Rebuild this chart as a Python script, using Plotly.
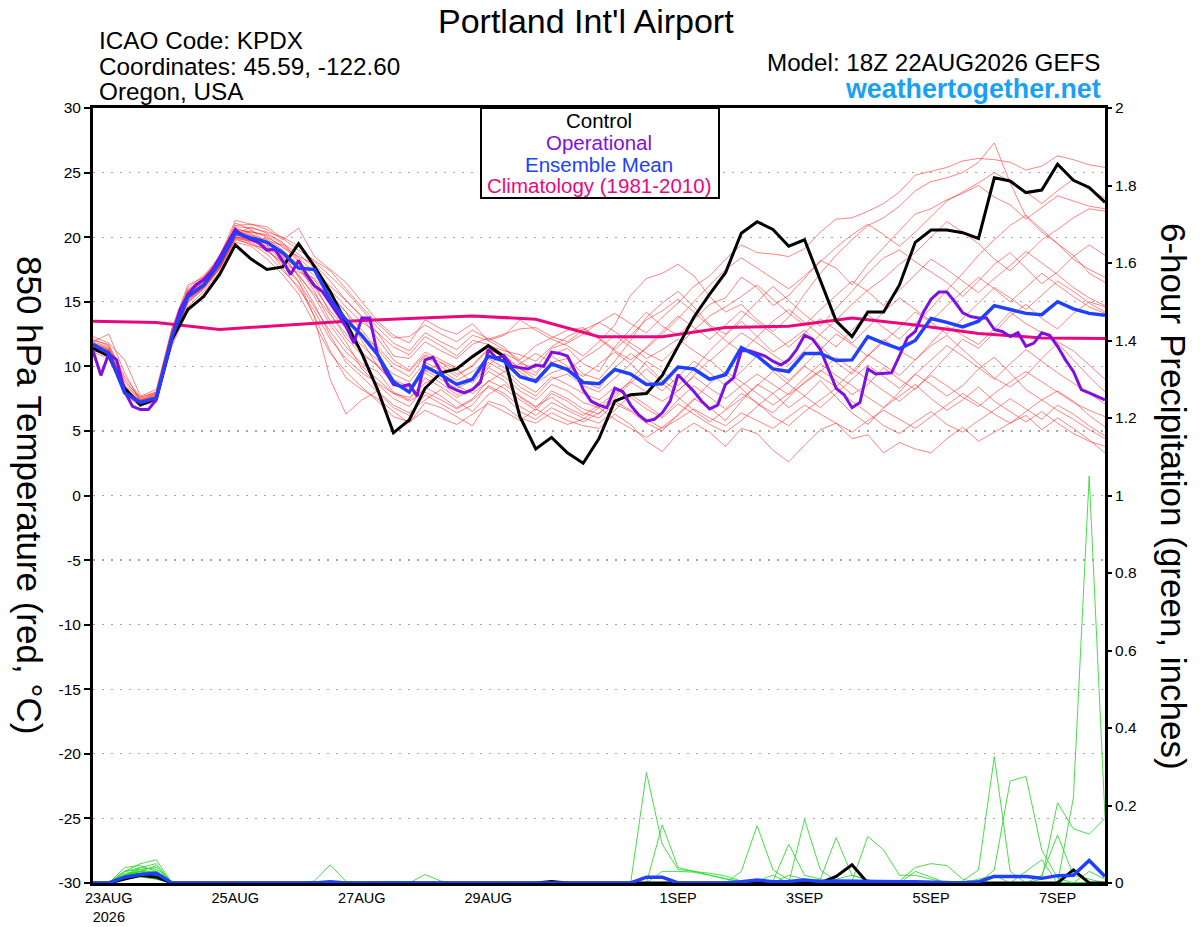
import plotly.graph_objects as go
import pandas as pd

# ---------------- time axes ----------------
start = pd.Timestamp("2026-08-22 18:00")
times_6h = pd.date_range(start, periods=65, freq="6h")
times_3h = pd.date_range(start, periods=129, freq="3h")
clim_times = pd.date_range(start, periods=17, freq="24h")

x_tick_dates = ["2026-08-23", "2026-08-25", "2026-08-27", "2026-08-29",
                "2026-09-01", "2026-09-03", "2026-09-05", "2026-09-07"]
x_tick_labels = ["23AUG<br>2026", "25AUG", "27AUG", "29AUG",
                 "1SEP", "3SEP", "5SEP", "7SEP"]
temp_ticks = [-30, -25, -20, -15, -10, -5, 0, 5, 10, 15, 20, 25, 30]
temp_tick_labels = ["-30", "-25", "-20", "-15", "-10", "-5", "0", "5", "10", "15", "20", "25", "30"]
precip_ticks = [0, 0.2, 0.4, 0.6, 0.8, 1, 1.2, 1.4, 1.6, 1.8, 2]
precip_tick_labels = ["0", "0.2", "0.4", "0.6", "0.8", "1", "1.2", "1.4", "1.6", "1.8", "2"]

# ---------------- 850 hPa temperature (deg C) ----------------
control_temp = [11.4, 10.8, 8.3, 7.0, 7.5, 12.1, 14.4, 15.4, 17.1, 19.4,
                18.3, 17.5, 17.7, 19.5, 17.75, 15.8, 13.4, 11.0, 8.2, 4.85,
                5.85, 8.3, 9.5, 9.8, 10.75, 11.6, 10.75, 6.1, 3.6, 4.5,
                3.3, 2.5, 4.4, 7.3, 7.8, 7.9, 9.3, 11.6, 13.8, 15.6,
                17.25, 20.3, 21.2, 20.6, 19.3, 19.8, 16.7, 13.5, 12.3, 14.2,
                14.2, 16.3, 19.6, 20.55, 20.55, 20.35, 19.9, 24.6, 24.35, 23.45,
                23.65, 25.65, 24.4, 23.85, 22.7]

mean_temp = [11.7, 11.0, 7.95, 7.2, 7.55, 12.3, 15.4, 16.3, 18.0, 20.3,
             19.95, 19.6, 18.8, 17.6, 17.5, 15.2, 13.6, 12.4, 10.9, 8.8,
             8.0, 10.0, 9.35, 8.6, 9.0, 10.8, 10.4, 9.2, 8.85, 10.2,
             9.75, 8.75, 8.65, 9.75, 9.4, 8.6, 8.65, 9.95, 9.8, 9.0,
             9.35, 11.45, 10.8, 9.8, 9.6, 11.0, 11.0, 10.45, 10.5, 12.3,
             11.8, 11.35, 12.0, 13.7, 13.4, 13.05, 13.5, 14.7, 14.4, 14.1,
             14.0, 15.0, 14.45, 14.1, 13.95]

# operational run, 3-hourly
oper_temp = [11.2, 9.3, 11.0, 10.5, 8.05, 6.9, 6.65, 6.65,
             7.4, 9.75, 12.3, 14.4, 15.55, 16.3, 16.7, 17.35,
             18.4, 19.55, 20.6, 20.1, 19.85, 19.55, 19.0, 19.05,
             18.15, 17.1, 18.2, 17.1, 16.25, 15.8, 14.9, 14.0,
             13.1, 11.8, 13.75, 13.75, 10.9, 9.6, 8.6, 8.45,
             8.6, 7.7, 10.5, 10.7, 9.6, 8.45, 8.15, 7.95,
             8.2, 8.75, 11.3, 10.65, 10.8, 10.0, 9.9, 9.8,
             10.1, 10.0, 11.1, 11.0, 10.8, 9.6, 8.2, 7.3,
             7.0, 6.8, 8.3, 8.05, 7.0, 6.25, 5.75, 5.9,
             6.4, 7.3, 9.35, 8.7, 8.05, 7.3, 6.7, 7.0,
             8.6, 9.1, 11.2, 11.2, 11.0, 10.8, 10.4, 10.1,
             10.5, 11.3, 12.4, 12.1, 11.3, 9.75, 8.3, 7.8,
             6.8, 7.2, 9.8, 9.4, 9.45, 9.5, 10.8, 12.2,
             12.7, 14.15, 15.2, 15.75, 15.75, 15.0, 14.15, 13.85,
             13.75, 13.75, 12.85, 12.7, 12.3, 12.6, 11.55, 11.8,
             12.6, 12.4, 11.55, 10.5, 9.6, 8.2, 7.95, 7.7,
             7.4]

clim_temp = [13.5, 13.4, 12.85, 13.2, 13.5, 13.7, 13.9, 13.65, 12.3,
             12.3, 13.0, 13.1, 13.75, 13.2, 12.55, 12.2, 12.15]

member_temp_01 = [11.9, 12.5, 9.5, 7.3, 7.8, 12.8, 15.8, 16.8, 18.2, 20.9, 21.0, 20.6, 19.8,
                  20.7, 18.5, 17.5, 16.5, 15.0, 13.5, 12.4, 11.8, 13.6, 12.9, 12.5, 13.3, 12.0,
                  12.4, 13.6, 12.8, 12.1, 11.6, 10.8, 11.9, 13.2, 15.5, 16.8, 17.2, 17.9, 17.0,
                  15.4, 14.2, 14.8, 13.6, 12.7, 13.8, 15.6, 17.2, 18.6, 19.8, 20.9, 21.5, 22.4,
                  23.6, 24.3, 24.6, 25.0, 25.8, 27.3, 24.2, 21.6, 20.4, 19.5, 18.6, 17.2, 16.5]
member_temp_02 = [11.5, 11.2, 8.2, 7.4, 7.9, 12.6, 15.6, 16.5, 18.4, 20.6, 20.4, 20.1, 19.2,
                  18.5, 17.9, 16.6, 15.1, 13.9, 12.6, 10.8, 10.6, 11.9, 11.2, 10.6, 11.7, 12.2,
                  11.5, 10.2, 9.9, 11.4, 11.8, 12.5, 13.4, 14.1, 13.3, 12.6, 13.8, 14.9, 16.2,
                  17.0, 18.3, 19.4, 18.8, 18.7, 18.5, 19.1, 20.4, 21.4, 21.5, 22.0, 22.6, 23.5,
                  24.8, 25.1, 25.4, 25.9, 26.1, 26.0, 25.8, 25.2, 25.5, 26.3, 26.0, 25.6, 25.4]
member_temp_03 = [11.6, 11.1, 8.0, 7.1, 7.4, 12.1, 15.2, 16.1, 17.6, 20.2, 20.8, 20.3, 19.6,
                  18.2, 16.4, 14.1, 12.2, 10.9, 10.1, 9.0, 8.4, 9.6, 10.3, 9.8, 8.7, 10.1,
                  11.0, 10.4, 9.5, 10.9, 11.4, 10.2, 9.6, 11.5, 12.9, 14.2, 13.1, 12.4, 13.6,
                  14.8, 15.3, 16.9, 16.1, 14.7, 15.5, 16.8, 18.2, 17.6, 16.3, 17.9, 19.2, 20.5,
                  21.8, 22.2, 22.9, 23.4, 24.0, 23.1, 22.5, 21.4, 22.3, 23.2, 22.8, 22.4, 22.2]
member_temp_04 = [11.3, 10.7, 7.9, 7.0, 7.3, 11.8, 14.6, 15.8, 17.3, 19.8, 19.5, 18.7, 17.4,
                  16.2, 13.9, 11.2, 9.1, 8.2, 7.5, 6.5, 5.6, 7.2, 6.8, 6.1, 5.4, 7.3,
                  6.9, 6.0, 5.6, 6.4, 5.8, 5.4, 5.2, 6.3, 5.5, 4.2, 3.4, 4.8, 5.6,
                  4.9, 3.8, 5.2, 4.8, 3.5, 2.6, 3.9, 5.1, 5.6, 4.4, 4.7, 3.3, 4.1,
                  3.6, 3.3, 4.4, 5.3, 4.2, 4.9, 5.6, 6.2, 5.1, 6.0, 5.2, 4.3, 3.3]
member_temp_05 = [11.8, 11.4, 8.6, 7.5, 7.9, 12.4, 15.5, 16.7, 18.1, 20.4, 20.2, 19.8, 18.4,
                  17.1, 15.4, 13.2, 11.5, 10.2, 9.6, 8.0, 7.4, 9.1, 8.4, 7.6, 8.2, 9.9,
                  9.2, 8.1, 7.4, 8.6, 8.1, 7.2, 6.8, 7.7, 8.9, 10.4, 9.6, 8.5, 9.8,
                  11.2, 12.4, 13.5, 12.3, 11.1, 11.9, 12.8, 11.6, 10.3, 9.4, 10.8, 12.1, 11.2,
                  10.5, 11.6, 12.4, 11.3, 10.2, 9.1, 8.4, 9.3, 10.6, 11.8, 10.5, 9.2, 8.0]
member_temp_06 = [12.1, 11.6, 9.0, 7.4, 7.6, 12.5, 15.9, 16.9, 18.3, 21.1, 20.6, 19.4, 18.0,
                  17.3, 16.8, 15.5, 14.2, 12.8, 11.3, 9.9, 9.2, 10.8, 10.0, 9.2, 10.1, 11.4,
                  10.7, 9.6, 8.7, 9.5, 9.9, 8.8, 8.3, 9.9, 11.0, 10.1, 8.9, 8.1, 9.3,
                  10.5, 9.4, 8.3, 7.1, 6.4, 7.6, 8.8, 9.7, 8.9, 7.8, 8.6, 9.9, 9.0,
                  8.2, 9.5, 10.8, 12.1, 11.4, 12.6, 13.9, 14.8, 13.7, 12.9, 14.1, 15.0, 14.6]
member_temp_07 = [11.4, 11.0, 7.8, 6.9, 7.7, 12.2, 15.3, 16.2, 17.8, 20.1, 19.7, 19.9, 19.0,
                  17.8, 15.8, 13.5, 11.9, 9.8, 8.6, 7.5, 6.9, 8.4, 7.7, 6.8, 7.5, 8.9,
                  8.3, 7.4, 6.6, 7.9, 7.3, 6.4, 6.0, 7.1, 6.5, 5.6, 5.0, 6.3, 7.5,
                  6.8, 5.8, 7.3, 8.6, 7.9, 6.8, 7.7, 8.9, 7.6, 6.4, 5.5, 6.8, 8.0,
                  9.4, 8.6, 7.7, 8.5, 9.8, 10.7, 9.5, 8.2, 7.4, 8.1, 7.3, 6.2, 5.3]
member_temp_08 = [11.7, 11.3, 8.4, 7.2, 7.5, 12.3, 15.4, 16.4, 18.0, 20.3, 20.5, 20.0, 19.3,
                  18.1, 17.0, 15.9, 14.6, 13.4, 12.6, 11.5, 10.9, 12.3, 11.6, 10.8, 12.0, 11.7,
                  10.9, 9.8, 9.0, 10.3, 10.6, 9.4, 9.0, 10.4, 12.0, 13.8, 14.9, 15.8, 14.6,
                  13.2, 12.5, 13.7, 15.0, 16.2, 15.1, 14.0, 13.1, 14.5, 15.8, 17.2, 18.4, 19.0,
                  18.1, 17.3, 16.5, 15.4, 16.6, 17.9, 18.8, 17.6, 16.4, 17.3, 18.5, 19.4, 18.6]
member_temp_09 = [11.2, 10.9, 8.1, 7.3, 7.4, 11.9, 15.0, 16.0, 17.5, 19.9, 19.4, 19.1, 18.8,
                  16.9, 14.8, 12.4, 10.3, 9.2, 8.0, 6.8, 6.2, 7.8, 7.1, 6.4, 7.0, 8.5,
                  7.9, 6.9, 6.2, 7.2, 6.6, 6.0, 5.6, 6.6, 7.8, 7.0, 6.1, 7.4, 8.5,
                  7.6, 6.7, 7.9, 7.2, 6.1, 5.4, 6.5, 7.4, 8.3, 7.3, 6.4, 5.4, 4.8,
                  5.7, 6.5, 5.5, 4.9, 5.8, 6.6, 7.5, 6.7, 5.9, 7.0, 6.3, 5.4, 4.6]
member_temp_10 = [11.9, 11.5, 8.8, 7.6, 8.0, 12.9, 16.1, 17.0, 18.5, 21.3, 21.0, 20.8, 19.9,
                  19.0, 18.2, 17.4, 16.0, 14.6, 13.3, 12.2, 12.3, 13.2, 12.5, 11.9, 12.8, 12.1,
                  12.5, 12.9, 13.0, 12.3, 11.9, 12.8, 13.4, 12.7, 11.8, 11.0, 10.4, 11.6, 12.8,
                  13.9, 14.6, 15.4, 16.3, 15.2, 14.1, 13.2, 14.4, 15.5, 16.6, 15.8, 14.7, 15.9,
                  17.1, 18.3, 17.5, 16.6, 15.7, 16.8, 17.8, 18.9, 18.0, 17.1, 16.1, 15.3, 14.7]
member_temp_11 = [11.5, 11.1, 8.3, 7.2, 7.6, 12.0, 15.1, 16.2, 17.7, 20.0, 19.9, 19.5, 18.6,
                  17.5, 16.1, 14.3, 12.9, 11.6, 10.5, 9.4, 8.8, 10.3, 9.7, 8.9, 9.6, 10.6,
                  9.9, 8.7, 8.0, 9.2, 8.6, 7.9, 7.4, 8.4, 7.6, 6.7, 6.0, 7.1, 6.3,
                  5.5, 4.9, 5.8, 6.9, 7.9, 8.8, 10.0, 9.2, 8.4, 9.6, 10.9, 10.1, 9.3,
                  10.5, 11.8, 13.1, 12.4, 11.7, 12.9, 14.2, 13.3, 12.6, 11.9, 11.2, 10.1, 9.0]
member_temp_12 = [12.3, 11.8, 10.5, 7.7, 8.2, 13.0, 16.3, 16.9, 18.3, 20.7, 20.3, 19.2, 17.6,
                  16.0, 14.3, 12.1, 10.6, 9.5, 8.7, 7.9, 7.6, 8.7, 9.3, 8.5, 7.9, 8.8,
                  9.6, 10.2, 11.0, 10.3, 9.7, 10.6, 11.4, 12.4, 11.5, 10.6, 11.3, 12.1, 11.2,
                  10.4, 11.5, 12.6, 11.8, 10.9, 10.1, 11.2, 12.5, 13.6, 14.8, 15.9, 16.8, 17.9,
                  18.8, 20.0, 21.2, 20.4, 19.5, 18.3, 17.4, 18.6, 19.8, 20.6, 21.5, 22.2, 22.0]
member_temp_13 = [11.1, 10.6, 7.9, 7.0, 7.2, 11.6, 14.3, 15.6, 17.2, 19.6, 19.3, 18.3, 17.1,
                  15.6, 13.3, 11.0, 9.6, 8.4, 7.3, 6.1, 5.7, 6.6, 6.0, 5.5, 6.3, 7.1,
                  6.5, 5.8, 6.7, 6.0, 5.5, 5.9, 6.8, 5.9, 5.2, 4.5, 5.3, 6.2, 7.4,
                  8.7, 9.6, 8.8, 7.9, 7.0, 7.9, 9.1, 10.2, 9.3, 8.5, 7.6, 6.8, 7.7,
                  8.6, 7.5, 6.6, 7.4, 8.4, 7.3, 6.5, 5.7, 6.5, 5.6, 4.8, 4.2, 3.8]
member_temp_14 = [11.6, 11.2, 8.2, 7.3, 7.7, 12.4, 15.6, 16.6, 18.1, 20.5, 20.1, 19.7, 19.4,
                  18.4, 17.3, 16.2, 15.1, 13.8, 12.1, 10.5, 9.7, 11.1, 10.5, 9.9, 10.9, 11.6,
                  11.2, 10.9, 10.4, 11.5, 12.3, 12.9, 12.2, 11.3, 12.4, 13.6, 14.3, 15.2, 14.2,
                  13.1, 12.0, 11.1, 12.3, 13.5, 14.4, 13.4, 12.4, 11.5, 12.8, 14.0, 13.0, 12.1,
                  13.3, 14.5, 15.9, 17.2, 18.6, 19.8, 20.9, 21.7, 20.6, 19.5, 18.3, 17.5, 16.9]
member_temp_15 = [11.8, 11.3, 8.5, 7.4, 7.8, 12.5, 15.7, 16.6, 18.2, 20.4, 20.0, 19.6, 18.9,
                  17.9, 16.7, 15.0, 13.5, 12.3, 11.5, 10.2, 9.6, 10.9, 10.3, 9.4, 10.0, 11.3,
                  10.8, 9.8, 9.3, 10.8, 10.0, 9.2, 10.2, 11.1, 10.2, 9.0, 8.1, 9.2, 10.4,
                  9.5, 8.5, 9.6, 10.8, 9.9, 8.9, 10.1, 11.3, 12.5, 11.7, 10.8, 11.9, 13.0,
                  14.2, 13.4, 12.5, 13.7, 14.9, 16.1, 15.3, 14.4, 15.5, 16.6, 15.8, 14.9, 14.2]
member_temp_16 = [11.4, 10.8, 8.0, 7.1, 7.5, 12.1, 15.2, 16.1, 17.7, 20.0, 19.6, 18.9, 18.1,
                  16.6, 13.8, 9.0, 6.3, 7.4, 8.1, 7.0, 6.4, 7.4, 8.2, 7.3, 6.5, 7.8,
                  8.6, 7.7, 6.9, 7.6, 6.8, 6.2, 7.0, 7.9, 8.8, 8.0, 7.3, 8.1, 9.2,
                  8.3, 7.5, 8.5, 9.4, 8.6, 7.8, 8.7, 9.6, 10.7, 9.8, 9.0, 8.1, 7.3,
                  8.3, 9.3, 8.5, 7.6, 6.9, 7.9, 8.8, 9.6, 8.8, 8.0, 7.2, 6.6, 6.1]
member_temp_17 = [11.7, 11.2, 8.3, 7.2, 7.6, 12.3, 15.5, 16.4, 17.9, 20.2, 20.4, 20.2, 19.5,
                  18.7, 17.6, 15.6, 14.2, 12.0, 10.0, 8.7, 8.3, 9.7, 9.0, 8.3, 8.9, 10.3,
                  9.6, 8.4, 7.7, 9.0, 9.4, 8.5, 8.0, 9.1, 10.2, 11.5, 12.7, 13.9, 13.0,
                  12.1, 13.2, 14.3, 13.4, 12.5, 11.5, 12.6, 13.7, 12.8, 11.8, 13.0, 14.2, 15.3,
                  14.4, 13.5, 14.7, 15.8, 16.9, 16.0, 15.0, 16.1, 17.2, 16.3, 15.4, 14.6, 14.1]
member_temp_18 = [11.5, 11.0, 8.1, 7.0, 7.4, 11.9, 14.9, 16.0, 17.6, 19.9, 19.7, 19.3, 18.5,
                  17.0, 15.6, 14.0, 12.5, 11.1, 10.0, 8.8, 8.1, 9.5, 8.7, 7.8, 8.3, 9.6,
                  8.9, 7.6, 6.8, 8.1, 7.5, 6.7, 6.3, 7.5, 8.7, 9.8, 8.7, 7.6, 6.6,
                  5.7, 6.6, 7.5, 8.5, 9.6, 8.6, 7.7, 6.8, 7.9, 9.0, 10.1, 9.2, 8.3,
                  9.4, 10.5, 11.6, 10.8, 9.9, 9.0, 10.2, 11.3, 10.4, 9.5, 8.7, 7.9, 7.1]
member_temp_19 = [12.0, 11.7, 9.2, 7.6, 8.0, 12.7, 15.9, 16.8, 18.4, 20.8, 20.7, 20.4, 20.0,
                  19.3, 18.1, 17.0, 15.8, 14.4, 13.0, 11.8, 11.2, 12.6, 11.9, 11.3, 12.4, 12.0,
                  11.3, 10.5, 11.6, 12.2, 12.8, 13.0, 12.1, 11.2, 10.5, 11.4, 12.5, 13.7, 15.0,
                  16.3, 17.5, 18.4, 17.6, 16.8, 16.0, 17.0, 18.1, 19.2, 20.2, 21.0, 20.2, 19.3,
                  20.4, 21.6, 22.8, 23.5, 24.2, 25.0, 24.3, 23.5, 22.6, 23.6, 24.5, 23.7, 23.0]
member_temp_20 = [11.3, 10.9, 8.0, 7.1, 7.5, 12.0, 15.0, 16.1, 17.6, 20.0, 19.8, 19.0, 17.9,
                  16.5, 14.6, 12.7, 11.1, 10.0, 9.0, 7.9, 7.3, 8.0, 7.4, 6.7, 7.4, 8.4,
                  7.7, 6.5, 5.9, 6.8, 6.2, 5.7, 6.4, 7.3, 6.6, 5.9, 5.2, 5.9, 6.7,
                  6.0, 5.4, 6.4, 5.8, 5.2, 6.1, 7.0, 6.3, 5.6, 4.9, 5.8, 6.6, 5.9,
                  5.2, 6.1, 7.0, 7.9, 7.1, 6.3, 5.6, 6.5, 7.4, 6.6, 5.9, 5.1, 4.4]

# ---------------- 6-hour precipitation (inches) ----------------
control_precip = [0, 0, .01, .02, .015, 0, 0, 0, 0, 0, 0, 0, 0,
                  0, 0, 0, 0, 0, 0, 0, 0, 0, 0, 0, 0, 0,
                  0, 0, 0, .004, 0, 0, 0, 0, 0, 0, 0, 0, 0,
                  0, 0, 0, 0, 0, 0, 0, 0, .017, .047, 0, 0, 0,
                  0, 0, 0, 0, 0, 0, 0, 0, 0, 0, .034, 0, 0]
mean_precip = [0, 0, .015, .022, .025, 0, 0, 0, 0, 0, 0, 0, 0,
               0, 0, .003, 0, 0, 0, 0, 0, .002, 0, 0, 0, 0,
               0, 0, 0, .002, 0, 0, 0, 0, 0, .015, .015, 0, 0,
               0, 0, .003, .008, .003, .004, .008, .004, .005, .004, .004, .003, .003,
               .003, .002, .002, 0, .003, .017, .017, .017, .012, .019, .02, .058, .017]

precip_01 = [0, 0, .03, .05, .06, 0, 0, 0, 0, 0, 0, 0, 0,
             0, .005, .047, .004, 0, 0, 0, 0, 0, 0, 0, 0, 0,
             0, 0, 0, 0, 0, 0, 0, 0, 0, 0, 0, 0, 0,
             0, 0, 0, 0, 0, 0, 0, 0, 0, 0, 0, 0, 0,
             0, 0, 0, 0, 0, 0, 0, 0, 0, 0, 0, 0, 0]
precip_02 = [0, 0, .02, .04, .05, 0, 0, 0, 0, 0, 0, 0, 0,
             0, 0, 0, 0, 0, 0, 0, 0, .022, .005, 0, 0, 0,
             0, 0, 0, 0, 0, 0, 0, 0, 0, 0, 0, 0, 0,
             0, 0, 0, 0, 0, 0, 0, 0, 0, 0, 0, 0, 0,
             0, 0, 0, 0, 0, 0, 0, 0, 0, 0, 0, 0, 0]
precip_03 = [0, 0, .03, .035, .04, 0, 0, 0, 0, 0, 0, 0, 0,
             0, 0, 0, 0, 0, .004, .004, .004, 0, 0, 0, 0, 0,
             0, 0, 0, 0, 0, 0, 0, 0, 0, 0, 0, 0, 0,
             0, 0, 0, 0, 0, 0, 0, 0, 0, 0, 0, 0, 0,
             0, 0, 0, 0, 0, 0, 0, 0, 0, 0, 0, 0, 0]
precip_04 = [0, 0, .01, .03, .03, 0, 0, 0, 0, 0, 0, 0, 0,
             0, 0, 0, 0, 0, 0, 0, 0, 0, 0, 0, 0, 0,
             0, 0, 0, 0, 0, 0, 0, 0, 0, .285, .10, .035, .03,
             .025, .018, .005, 0, 0, 0, 0, 0, 0, 0, 0, 0, 0,
             0, 0, 0, 0, 0, 0, 0, 0, 0, 0, 0, 0, 0]
precip_05 = [0, 0, .02, .03, .02, 0, 0, 0, 0, 0, 0, 0, 0,
             0, 0, 0, 0, 0, 0, 0, 0, 0, 0, 0, 0, 0,
             0, 0, 0, 0, 0, 0, 0, 0, 0, 0, .15, .04, .03,
             .02, .01, .005, .005, .02, 0, 0, 0, 0, 0, 0, 0, 0,
             0, 0, 0, 0, 0, 0, 0, 0, 0, 0, 0, 0, 0]
precip_06 = [0, 0, .04, .045, .03, 0, 0, 0, 0, 0, 0, 0, 0,
             0, 0, 0, 0, 0, 0, 0, 0, 0, 0, 0, 0, 0,
             0, 0, 0, 0, 0, 0, 0, 0, 0, 0, 0, 0, 0,
             0, 0, .03, .148, .034, .008, 0, 0, 0, 0, 0, 0, 0,
             0, 0, 0, 0, 0, 0, 0, 0, 0, 0, 0, 0, 0]
precip_07 = [0, 0, .01, .02, .025, 0, 0, 0, 0, 0, 0, 0, 0,
             0, 0, 0, 0, 0, 0, 0, 0, 0, 0, 0, 0, 0,
             0, 0, 0, 0, 0, 0, 0, 0, 0, 0, 0, 0, 0,
             0, 0, 0, 0, .005, .1, .02, .01, 0, 0, 0, 0, 0,
             0, 0, 0, 0, 0, 0, 0, 0, 0, 0, 0, 0, 0]
precip_08 = [0, 0, .02, .025, .015, 0, 0, 0, 0, 0, 0, 0, 0,
             0, 0, 0, 0, 0, 0, 0, 0, 0, 0, 0, 0, 0,
             0, 0, 0, 0, 0, 0, 0, 0, 0, 0, 0, 0, 0,
             0, 0, 0, 0, 0, 0, .164, .034, .005, 0, 0, 0, 0,
             0, 0, 0, 0, 0, 0, 0, 0, 0, 0, 0, 0, 0]
precip_09 = [0, 0, .03, .04, .035, 0, 0, 0, 0, 0, 0, 0, 0,
             0, 0, 0, 0, 0, 0, 0, 0, 0, 0, 0, 0, 0,
             0, 0, 0, 0, 0, 0, 0, 0, 0, 0, 0, 0, 0,
             0, 0, 0, 0, 0, 0, 0, .01, .117, .02, .008, 0, 0,
             0, 0, 0, 0, 0, 0, 0, 0, 0, 0, 0, 0, 0]
precip_10 = [0, 0, .02, .03, .045, 0, 0, 0, 0, 0, 0, 0, 0,
             0, 0, 0, 0, 0, 0, 0, 0, 0, 0, 0, 0, 0,
             0, 0, 0, 0, 0, 0, 0, 0, 0, 0, 0, 0, 0,
             0, 0, 0, 0, 0, 0, 0, 0, 0, .005, .12, .085, .02,
             .02, .01, 0, 0, 0, 0, 0, 0, 0, 0, 0, 0, 0]
precip_11 = [0, 0, .015, .02, .02, 0, 0, 0, 0, 0, 0, 0, 0,
             0, 0, 0, 0, 0, 0, 0, 0, 0, 0, 0, 0, 0,
             0, 0, 0, 0, 0, 0, 0, 0, 0, 0, 0, 0, 0,
             0, 0, 0, 0, 0, 0, 0, 0, 0, 0, 0, 0, .005,
             .04, .05, .045, .01, 0, 0, 0, 0, 0, 0, 0, 0, 0]
precip_12 = [0, 0, .02, .03, .01, 0, 0, 0, 0, 0, 0, 0, 0,
             0, 0, 0, 0, 0, 0, 0, 0, 0, 0, 0, 0, 0,
             0, 0, 0, 0, 0, 0, 0, 0, 0, 0, 0, 0, 0,
             0, 0, 0, 0, 0, 0, 0, 0, 0, 0, 0, 0, 0,
             0, 0, 0, .005, .034, .326, .03, 0, 0, 0, 0, 0, 0]
precip_13 = [0, 0, .01, .025, .03, 0, 0, 0, 0, 0, 0, 0, 0,
             0, 0, 0, 0, 0, 0, 0, 0, 0, 0, 0, 0, 0,
             0, 0, 0, 0, 0, 0, 0, 0, 0, 0, 0, 0, 0,
             0, 0, 0, 0, 0, 0, 0, 0, 0, 0, 0, 0, 0,
             0, 0, 0, 0, 0, .034, .263, .275, .085, .013, 0, 0, 0]
precip_14 = [0, 0, .02, .03, .02, 0, 0, 0, 0, 0, 0, 0, 0,
             0, 0, 0, 0, 0, 0, 0, 0, 0, 0, 0, 0, 0,
             0, 0, 0, 0, 0, 0, 0, 0, 0, 0, 0, 0, 0,
             0, 0, 0, 0, 0, 0, 0, 0, 0, 0, 0, 0, 0,
             0, 0, 0, 0, 0, 0, 0, 0, .01, .207, .14, .126, .167]
precip_15 = [0, 0, .015, .02, .015, 0, 0, 0, 0, 0, 0, 0, 0,
             0, 0, 0, 0, 0, 0, 0, 0, 0, 0, 0, 0, 0,
             0, 0, 0, 0, 0, 0, 0, 0, 0, 0, 0, 0, 0,
             0, 0, 0, 0, 0, 0, 0, 0, 0, 0, 0, 0, 0,
             0, 0, 0, 0, 0, 0, 0, 0, .02, .124, .02, .01, 0]
precip_16 = [0, 0, .02, .035, .025, 0, 0, 0, 0, 0, 0, 0, 0,
             0, 0, 0, 0, 0, 0, 0, 0, 0, 0, 0, 0, 0,
             0, 0, 0, 0, 0, 0, 0, 0, 0, 0, 0, 0, 0,
             0, 0, 0, 0, 0, 0, 0, 0, 0, 0, 0, 0, 0,
             0, 0, 0, 0, 0, 0, 0, 0, 0, 0, .22, 1.05, .17]
precip_17 = [0, 0, .01, .02, .015, 0, 0, 0, 0, 0, 0, 0, 0,
             0, 0, 0, 0, 0, 0, 0, 0, 0, 0, 0, 0, 0,
             0, 0, 0, 0, 0, 0, 0, 0, 0, 0, .03, .03, .028,
             .02, .012, 0, 0, 0, 0, 0, 0, 0, 0, 0, 0, 0,
             0, 0, 0, 0, 0, 0, 0, 0, 0, 0, 0, 0, 0]
precip_18 = [0, 0, .025, .03, .02, 0, 0, 0, 0, 0, 0, 0, 0,
             0, 0, 0, 0, 0, 0, 0, 0, 0, 0, 0, 0, 0,
             0, 0, 0, 0, 0, 0, 0, 0, 0, 0, 0, 0, 0,
             0, 0, 0, 0, 0, 0, 0, 0, .01, .02, .008, 0, 0,
             .03, .015, 0, 0, 0, 0, 0, 0, 0, 0, 0, 0, 0]
precip_19 = [0, 0, .01, .015, .01, 0, 0, 0, 0, 0, 0, 0, 0,
             0, 0, 0, 0, 0, 0, 0, 0, 0, 0, 0, 0, 0,
             0, 0, 0, 0, 0, 0, 0, 0, 0, 0, 0, 0, 0,
             0, 0, 0, 0, 0, .02, .01, 0, 0, 0, 0, 0, 0,
             0, 0, 0, 0, .01, .02, 0, 0, 0, 0, 0, 0, 0]
precip_20 = [0, 0, .02, .025, .03, 0, 0, 0, 0, 0, 0, 0, 0,
             0, 0, 0, 0, 0, 0, 0, 0, 0, 0, 0, 0, 0,
             0, 0, 0, 0, 0, 0, 0, 0, 0, 0, 0, 0, 0,
             0, 0, 0, 0, 0, 0, 0, 0, 0, 0, 0, 0, 0,
             0, 0, 0, 0, 0, 0, 0, .03, .06, 0, 0, .03, .01]

member_temps = [member_temp_01, member_temp_02, member_temp_03, member_temp_04, member_temp_05,
                member_temp_06, member_temp_07, member_temp_08, member_temp_09, member_temp_10,
                member_temp_11, member_temp_12, member_temp_13, member_temp_14, member_temp_15,
                member_temp_16, member_temp_17, member_temp_18, member_temp_19, member_temp_20]
member_precips = [precip_01, precip_02, precip_03, precip_04, precip_05, precip_06, precip_07,
                  precip_08, precip_09, precip_10, precip_11, precip_12, precip_13, precip_14,
                  precip_15, precip_16, precip_17, precip_18, precip_19, precip_20]

# ---------------- styles ----------------
FONT = "Liberation Sans, Arial, Helvetica, sans-serif"
RED = "rgba(255,30,30,0.55)"
GREEN = "rgba(40,215,40,0.85)"
BLACK = "#000000"
PURPLE = "#7f10e2"
BLUE = "#2040ff"
PINK = "#ea087e"
SITE_BLUE = "#19a0f7"

W, H = 1200, 927
# plot box in the final picture (page body margin is removed below)
BOX_L, BOX_R, BOX_T, BOX_B = 93, 1105, 108, 883
PW, PH = BOX_R - BOX_L, BOX_B - BOX_T
M_L, M_T = BOX_L, BOX_T
M_R, M_B = W - BOX_R, H - BOX_B


def px(x):
    return (x - BOX_L) / PW


def py(y):
    return (BOX_B - y) / PH


fig = go.Figure()

for m in member_temps:
    fig.add_trace(go.Scatter(x=times_6h, y=m, mode="lines", yaxis="y",
                             line=dict(color=RED, width=1), hoverinfo="skip"))
for p in member_precips:
    fig.add_trace(go.Scatter(x=times_6h, y=p, mode="lines", yaxis="y2",
                             line=dict(color=GREEN, width=1), hoverinfo="skip"))

fig.add_trace(go.Scatter(x=times_6h, y=control_precip, mode="lines", yaxis="y2",
                         line=dict(color=BLACK, width=3)))
fig.add_trace(go.Scatter(x=times_6h, y=mean_precip, mode="lines", yaxis="y2",
                         line=dict(color=BLUE, width=3.5)))

fig.add_trace(go.Scatter(x=clim_times, y=clim_temp, mode="lines", yaxis="y",
                         line=dict(color=PINK, width=3)))
fig.add_trace(go.Scatter(x=times_6h, y=control_temp, mode="lines", yaxis="y",
                         line=dict(color=BLACK, width=3)))
fig.add_trace(go.Scatter(x=times_3h, y=oper_temp, mode="lines", yaxis="y",
                         line=dict(color=PURPLE, width=3)))
fig.add_trace(go.Scatter(x=times_6h, y=mean_temp, mode="lines", yaxis="y",
                         line=dict(color=BLUE, width=3.5)))

annotations = [
    dict(text="Portland Int'l Airport", x=px(586), y=py(0), yanchor="top", font=dict(size=34)),
    dict(text="ICAO Code: KPDX", x=px(97), y=py(40), xanchor="left", font=dict(size=24.3)),
    dict(text="Coordinates: 45.59, -122.60", x=px(97), y=py(66), xanchor="left", font=dict(size=24.3)),
    dict(text="Oregon, USA", x=px(97), y=py(92), xanchor="left", font=dict(size=24.3)),
    dict(text="Model: 18Z 22AUG2026 GEFS", x=px(1102), y=py(63), xanchor="right", font=dict(size=24.2)),
    dict(text="<b>weathertogether.net</b>", x=px(1103), y=py(89), xanchor="right",
         font=dict(size=26.8, color=SITE_BLUE)),
    dict(text="Control", x=px(599), y=py(121), font=dict(size=20.5, color=BLACK)),
    dict(text="Operational", x=px(599), y=py(142.5), font=dict(size=20.5, color=PURPLE)),
    dict(text="Ensemble Mean", x=px(599), y=py(164), font=dict(size=20.5, color=BLUE)),
    dict(text="Climatology (1981-2010)", x=px(599), y=py(186), font=dict(size=20.5, color=PINK)),
    dict(text="850 hPa Temperature (red, °C)", x=px(30), y=py(495), textangle=90,
         font=dict(size=35)),
    dict(text="6-hour Precipitation (green, inches)", x=px(1174), y=py(496), textangle=90,
         font=dict(size=35)),
]
for a in annotations:
    a.setdefault("xanchor", "center")
    a.setdefault("yanchor", "middle")
    a["xref"] = "paper"
    a["yref"] = "paper"
    a["showarrow"] = False
    f = a["font"]
    f.setdefault("color", BLACK)
    f["family"] = FONT

fig.update_layout(
    width=W, height=H,
    margin=dict(l=M_L, r=M_R, t=M_T, b=M_B, pad=0, autoexpand=False),
    paper_bgcolor="white", plot_bgcolor="white",
    showlegend=False,
    hovermode=False,
    font=dict(family=FONT, color="black", size=15),
    annotations=annotations,
    shapes=[dict(type="rect", xref="paper", yref="paper",
                 x0=px(481), x1=px(719), y0=py(198), y1=py(108),
                 line=dict(color="black", width=2), fillcolor="white", layer="above")],
    xaxis=dict(
        range=[times_6h[0], times_6h[-1]],
        tickvals=x_tick_dates, ticktext=x_tick_labels,
        ticks="", showgrid=False, zeroline=False, automargin=False,
        showline=True, linecolor="black", linewidth=3, mirror=True,
        tickfont=dict(size=14.5, family=FONT, color="black"),
    ),
    yaxis=dict(
        range=[-30, 30], tickvals=temp_ticks, ticktext=temp_tick_labels,
        ticks="outside", ticklen=6, tickwidth=2, tickcolor="black",
        showgrid=True, gridcolor="#a8a8a8", gridwidth=1.2, griddash="2px,7px",
        zeroline=False, automargin=False,
        showline=True, linecolor="black", linewidth=3, mirror=True,
        tickfont=dict(size=15.5, family=FONT, color="black"),
    ),
    yaxis2=dict(
        range=[0, 2], tickvals=precip_ticks, ticktext=precip_tick_labels,
        overlaying="y", side="right",
        ticks="outside", ticklen=6, tickwidth=2, tickcolor="black",
        showgrid=False, zeroline=False, showline=False, automargin=False,
        tickfont=dict(size=15.5, family=FONT, color="black"),
    ),
)

fig.write_html("out.html",
               config={"displayModeBar": False, "staticPlot": True},
               post_script="document.body.style.margin='0px'; document.body.style.overflow='hidden';")
